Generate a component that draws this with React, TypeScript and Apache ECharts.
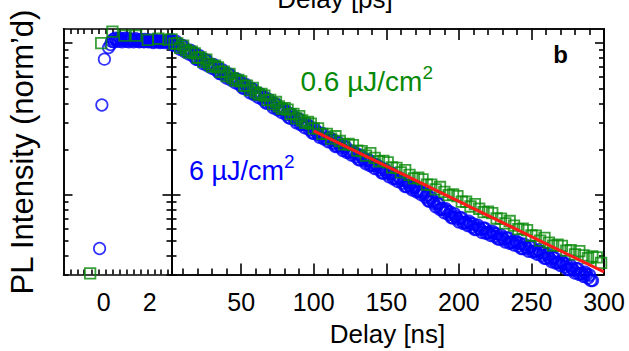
import React, { useEffect, useRef } from "react";
import * as echarts from "echarts";

// ---------- tick values ----------
const psTicks = [-1.45, -1.15, -0.85, -0.5, -0.2, 0.08, 0.38, 0.68, 1.0, 1.3, 1.6, 1.9, 2.2, 2.5, 2.78];
const psLabels = [0, 2];
const nsMinorTicks = [10, 20, 30, 40, 60, 70, 80, 90, 110, 120, 130, 140, 160, 170, 180, 190, 210, 220, 230, 240, 260, 270, 280, 290];
const nsMajorTicks = [50, 100, 150, 200, 250, 300];
const yMajorTicks = [0.1, 1];
const yMinorTicks = [0.03, 0.04, 0.05, 0.06, 0.07, 0.08, 0.09, 0.2, 0.3, 0.4, 0.5, 0.6, 0.7, 0.8, 0.9];

// ---------- data: left panel (ps) ----------
const bluePs = [
  [-0.18, 0.0445], [-0.08, 0.392], [0.03, 0.785], [0.21, 0.935], [0.3, 0.98], [0.35, 1.03], [0.4, 1.06],
  [0.45, 1.02], [0.5, 1.08], [0.55, 1.04], [0.6, 1.07], [0.65, 1.03], [0.7, 1.08], [0.75, 1.05], [0.8, 1.02],
  [0.85, 1.07], [0.9, 1.04], [0.95, 1.08], [1.0, 1.03], [1.05, 1.06], [1.1, 1.02], [1.15, 1.07], [1.2, 1.04],
  [1.25, 1.06], [1.3, 1.02], [1.35, 1.05], [1.4, 1.07], [1.45, 1.03], [1.5, 1.05], [1.55, 1.02], [1.6, 1.06],
  [1.65, 1.03], [1.7, 1.05], [1.75, 1.02], [1.8, 1.06], [1.85, 1.03], [1.9, 1.04], [1.95, 1.02], [2.0, 1.05],
  [2.05, 1.03], [2.1, 1.04], [2.15, 1.01], [2.2, 1.05], [2.25, 1.02], [2.3, 1.04], [2.35, 1.02], [2.4, 1.03],
  [2.45, 1.01], [2.5, 1.04], [2.55, 1.02], [2.6, 1.03], [2.65, 1.01], [2.7, 1.04], [2.75, 1.02], [2.8, 1.03],
  [2.85, 1.01], [2.9, 1.03], [2.95, 1.02],
];
const greenPs = [
  [-0.59, 0.0305], [-0.11, 1.0], [0.38, 1.19], [0.9, 1.12], [1.41, 1.12], [1.92, 1.05], [2.38, 1.07], [2.82, 1.05],
];

// ---------- data: right panel (ns), 6 uJ/cm2 (even delays) ----------
const blueNsEven = [
  [2, 1.05], [4, 0.973], [6, 0.986], [8, 0.912], [10, 0.961], [12, 0.89], [14, 0.849], [16, 0.869], [18, 0.854],
  [20, 0.783], [22, 0.793], [24, 0.733], [26, 0.774], [28, 0.717], [30, 0.684], [32, 0.7], [34, 0.688], [36, 0.631],
  [38, 0.638], [40, 0.59], [42, 0.623], [44, 0.577], [46, 0.55], [48, 0.563], [50, 0.553], [52, 0.506], [54, 0.512],
  [56, 0.473], [58, 0.498], [60, 0.461], [62, 0.439], [64, 0.449], [66, 0.441], [68, 0.404], [70, 0.408], [72, 0.377],
  [74, 0.397], [76, 0.367], [78, 0.35], [80, 0.358], [82, 0.351], [84, 0.321], [86, 0.325], [88, 0.3], [90, 0.316],
  [92, 0.293], [94, 0.278], [96, 0.285], [98, 0.28], [100, 0.256], [102, 0.26], [104, 0.241], [106, 0.254],
  [108, 0.236], [110, 0.225], [112, 0.232], [114, 0.228], [116, 0.21], [118, 0.212], [120, 0.197], [122, 0.208],
  [124, 0.193], [126, 0.184], [128, 0.189], [130, 0.186], [132, 0.171], [134, 0.174], [136, 0.161], [138, 0.17],
  [140, 0.157], [142, 0.15], [144, 0.155], [146, 0.152], [148, 0.14], [150, 0.142], [152, 0.132], [154, 0.139],
  [156, 0.129], [158, 0.123], [160, 0.126], [162, 0.125], [164, 0.114], [166, 0.116], [168, 0.108], [170, 0.113],
  [172, 0.106], [174, 0.101], [176, 0.103], [178, 0.0999], [180, 0.0912], [182, 0.0914], [184, 0.084], [186, 0.0879],
  [188, 0.081], [190, 0.0766], [192, 0.0785], [194, 0.0773], [196, 0.0709], [198, 0.072], [200, 0.0667],
  [202, 0.0707], [204, 0.0658], [206, 0.0632], [208, 0.0651], [210, 0.0644], [212, 0.0596], [214, 0.0609],
  [216, 0.0568], [218, 0.0604], [220, 0.0565], [222, 0.0543], [224, 0.0561], [226, 0.0556], [228, 0.0514],
  [230, 0.0525], [232, 0.0491], [234, 0.0522], [236, 0.0489], [238, 0.047], [240, 0.0487], [242, 0.0482],
  [244, 0.0446], [246, 0.0457], [248, 0.0427], [250, 0.0458], [252, 0.0426], [254, 0.0408], [256, 0.0421],
  [258, 0.0416], [260, 0.0384], [262, 0.0391], [264, 0.0364], [266, 0.0386], [268, 0.036], [270, 0.0345],
  [272, 0.0356], [274, 0.0351], [276, 0.0324], [278, 0.033], [280, 0.0307], [282, 0.0327], [284, 0.0304],
  [286, 0.0292], [288, 0.0301], [290, 0.0297], [292, 0.0274],
];
// ---------- 6 uJ/cm2 (odd delays) ----------
const blueNsOdd = [
  [3, 0.975], [5, 1.03], [7, 0.953], [9, 0.965], [11, 0.884], [13, 0.896], [15, 0.898], [17, 0.823], [19, 0.785],
  [21, 0.828], [23, 0.766], [25, 0.777], [27, 0.712], [29, 0.721], [31, 0.723], [33, 0.663], [35, 0.633], [37, 0.667],
  [39, 0.617], [41, 0.625], [43, 0.573], [45, 0.581], [47, 0.581], [49, 0.533], [51, 0.508], [53, 0.535], [55, 0.495],
  [57, 0.501], [59, 0.458], [61, 0.464], [63, 0.464], [65, 0.425], [67, 0.405], [69, 0.426], [71, 0.394], [73, 0.399],
  [75, 0.365], [77, 0.37], [79, 0.37], [81, 0.339], [83, 0.323], [85, 0.339], [87, 0.314], [89, 0.317], [91, 0.291],
  [93, 0.294], [95, 0.294], [97, 0.27], [99, 0.257], [101, 0.27], [103, 0.251], [105, 0.254], [107, 0.234],
  [109, 0.237], [111, 0.238], [113, 0.22], [115, 0.209], [117, 0.222], [119, 0.205], [121, 0.208], [123, 0.191],
  [125, 0.194], [127, 0.194], [129, 0.179], [131, 0.171], [133, 0.181], [135, 0.168], [137, 0.17], [139, 0.156],
  [141, 0.159], [143, 0.159], [145, 0.147], [147, 0.14], [149, 0.148], [151, 0.138], [153, 0.139], [155, 0.128],
  [157, 0.129], [159, 0.13], [161, 0.12], [163, 0.114], [165, 0.121], [167, 0.112], [169, 0.113], [171, 0.105],
  [173, 0.106], [175, 0.106], [177, 0.097], [179, 0.0917], [181, 0.0959], [183, 0.0881], [185, 0.0886],
  [187, 0.0806], [189, 0.0812], [191, 0.0811], [193, 0.0745], [195, 0.071], [197, 0.0751], [199, 0.0697],
  [201, 0.0708], [203, 0.0652], [205, 0.0665], [207, 0.0671], [209, 0.0618], [211, 0.0594], [213, 0.0632],
  [215, 0.0591], [217, 0.0604], [219, 0.0559], [221, 0.0571], [223, 0.0577], [225, 0.0534], [227, 0.0514],
  [229, 0.0546], [231, 0.051], [233, 0.0521], [235, 0.0483], [237, 0.0494], [239, 0.05], [241, 0.0463],
  [243, 0.0445], [245, 0.0474], [247, 0.0444], [249, 0.0455], [251, 0.0422], [253, 0.0429], [255, 0.0434],
  [257, 0.04], [259, 0.0384], [261, 0.0407], [263, 0.0379], [265, 0.0386], [267, 0.0356], [269, 0.0364],
  [271, 0.0366], [273, 0.0338], [275, 0.0324], [277, 0.0343], [279, 0.032], [281, 0.0327], [283, 0.0301],
  [285, 0.0307], [287, 0.031], [289, 0.0285], [291, 0.0274],
];
// ---------- 0.6 uJ/cm2 ----------
const greenNs = [
  [2, 1.06], [4, 0.993], [6, 0.996], [8, 0.931], [10, 0.963], [12, 0.901], [14, 0.868], [16, 0.88], [18, 0.857],
  [20, 0.802], [22, 0.805], [24, 0.753], [26, 0.778], [28, 0.728], [30, 0.702], [32, 0.711], [34, 0.693], [36, 0.648],
  [38, 0.65], [40, 0.608], [42, 0.628], [44, 0.588], [46, 0.567], [48, 0.574], [50, 0.56], [52, 0.523], [54, 0.525],
  [56, 0.491], [58, 0.508], [60, 0.475], [62, 0.458], [64, 0.464], [66, 0.452], [68, 0.422], [70, 0.424], [72, 0.397],
  [74, 0.41], [76, 0.384], [78, 0.369], [80, 0.374], [82, 0.365], [84, 0.341], [86, 0.342], [88, 0.32], [90, 0.331],
  [92, 0.31], [94, 0.299], [96, 0.303], [98, 0.295], [100, 0.275], [103, 0.275], [106, 0.253], [109, 0.253],
  [112, 0.235], [115, 0.244], [118, 0.227], [121, 0.216], [124, 0.217], [127, 0.213], [130, 0.196], [133, 0.195],
  [136, 0.182], [139, 0.189], [142, 0.176], [145, 0.167], [148, 0.168], [151, 0.164], [154, 0.152], [157, 0.151],
  [160, 0.141], [163, 0.146], [166, 0.136], [169, 0.129], [172, 0.13], [175, 0.127], [178, 0.117], [181, 0.117],
  [184, 0.109], [187, 0.113], [190, 0.105], [193, 0.0998], [196, 0.101], [199, 0.0983], [202, 0.0906], [205, 0.0904],
  [208, 0.0841], [211, 0.0873], [214, 0.0813], [217, 0.0772], [220, 0.0778], [223, 0.0761], [226, 0.0701],
  [229, 0.07], [232, 0.0651], [235, 0.0675], [238, 0.0629], [241, 0.0596], [244, 0.0601], [247, 0.0588],
  [250, 0.0542], [253, 0.0541], [256, 0.0502], [259, 0.0522], [262, 0.0486], [265, 0.0465], [268, 0.0471],
  [271, 0.0463], [274, 0.0431], [277, 0.0434], [280, 0.0407], [283, 0.0427], [286, 0.0401], [289, 0.0384],
  [292, 0.0394], [295, 0.0389], [298, 0.0358],
];
const redFit = [[100, 0.265], [300, 0.0312]];

const FONT = "'Liberation Sans', Arial, Helvetica, sans-serif";
const BLUE = "#0000ff";
const GREEN = "#078a07";
const RED = "#ff1a1a";
const AXL = { color: "#000", width: 1.6 };

function xAx(grid: number, pos: string, min: number, max: number, ticks: number[], len: number, labels?: number[]) {
  return {
    type: "value", gridIndex: grid, position: pos, min, max,
    axisLine: { show: true, onZero: false, lineStyle: AXL },
    axisTick: { show: true, inside: true, length: len, customValues: ticks, lineStyle: AXL },
    axisLabel: labels
      ? { show: true, customValues: labels, fontSize: 25, color: "#000", fontFamily: FONT, margin: 15 }
      : { show: false },
    splitLine: { show: false },
  };
}
function yAx(grid: number, pos: string, ticks: number[], len: number) {
  return {
    type: "log", logBase: 10, gridIndex: grid, position: pos, min: 0.03, max: 1.24,
    axisLine: { show: true, onZero: false, lineStyle: AXL },
    axisTick: { show: true, inside: true, length: len, customValues: ticks, lineStyle: AXL },
    axisLabel: { show: false },
    splitLine: { show: false },
  };
}

export default function App() {
  const ref = useRef<HTMLDivElement>(null);
  useEffect(() => {
    if (!ref.current) return;
    const chart = echarts.init(ref.current, undefined, { renderer: "svg" });
    const circle = (data: number[][], xi: number, yi: number, bw: number) => ({
      type: "scatter", xAxisIndex: xi, yAxisIndex: yi, data, symbol: "circle", symbolSize: 11.5, clip: false,
      itemStyle: { color: "rgba(0,0,0,0)", borderColor: BLUE, borderWidth: bw }, silent: true,
    });
    const square = (data: number[][], xi: number, yi: number) => ({
      type: "scatter", xAxisIndex: xi, yAxisIndex: yi, data, symbol: "rect", symbolSize: 10.5, clip: false,
      itemStyle: { color: "rgba(0,0,0,0)", borderColor: GREEN, borderWidth: 1.8 }, silent: true,
    });
    chart.setOption({
      animation: false,
      backgroundColor: "#fff",
      grid: [
        { left: 63.5, top: 29, width: 108, height: 245.5 },
        { left: 171.5, top: 29, width: 432.5, height: 245.5 },
      ],
      xAxis: [
        xAx(0, "bottom", -1.75, 2.95, psTicks, 5, psLabels),
        xAx(0, "top", -1.75, 2.95, psTicks, 5),
        xAx(1, "bottom", 2, 300, nsMinorTicks, 6),
        xAx(1, "bottom", 2, 300, nsMajorTicks, 11, nsMajorTicks),
        xAx(1, "top", 2, 300, nsMinorTicks, 6),
        xAx(1, "top", 2, 300, nsMajorTicks, 11),
      ],
      yAxis: [
        yAx(0, "left", yMajorTicks, 9),
        yAx(0, "left", yMinorTicks, 5),
        yAx(0, "right", yMajorTicks, 9),
        yAx(0, "right", yMinorTicks, 5),
        yAx(1, "left", yMajorTicks, 9),
        yAx(1, "left", yMinorTicks, 5),
        yAx(1, "right", yMajorTicks, 9),
        yAx(1, "right", yMinorTicks, 5),
      ],
      series: [
        circle(bluePs, 0, 0, 1.7),
        square(greenPs, 0, 0),
        circle(blueNsEven, 2, 4, 2),
        circle(blueNsOdd, 2, 4, 2),
        square(greenNs, 2, 4),
        {
          type: "line", xAxisIndex: 2, yAxisIndex: 4, data: redFit, symbol: "none", silent: true,
          lineStyle: { color: RED, width: 3 },
        },
      ],
      graphic: [
        {
          type: "text", x: 335, y: -1.5,
          style: { text: "Delay [ps]", fontSize: 26, fontFamily: FONT, fill: "#000", align: "center", verticalAlign: "middle", textAlign: "center", textVerticalAlign: "middle" },
        },
        {
          type: "text", x: 387.5, y: 334,
          style: { text: "Delay [ns]", fontSize: 26, fontFamily: FONT, fill: "#000", align: "center", verticalAlign: "middle", textAlign: "center", textVerticalAlign: "middle" },
        },
        {
          type: "text", x: 22.5, y: 152, rotation: Math.PI / 2,
          style: { text: "PL Intensity (norm\u2019d)", fontSize: 31, fontFamily: FONT, fill: "#000", align: "center", verticalAlign: "middle", textAlign: "center", textVerticalAlign: "middle" },
        },
        {
          type: "text", x: 560.5, y: 54.6,
          style: { text: "b", fontSize: 24, fontWeight: "bold", fontFamily: FONT, fill: "#000", align: "center", verticalAlign: "middle", textAlign: "center", textVerticalAlign: "middle" },
        },
        {
          type: "text", x: 300.5, y: 81.9,
          style: {
            text: "{m|0.6 \u00b5J/cm}{s|2}", align: "left", verticalAlign: "middle", textAlign: "left", textVerticalAlign: "middle",
            rich: {
              m: { fontSize: 28, lineHeight: 38, fontFamily: FONT, fill: GREEN },
              s: { fontSize: 19, lineHeight: 19, fontFamily: FONT, fill: GREEN, verticalAlign: "top" },
            },
          },
        },
        {
          type: "text", x: 189, y: 170.5,
          style: {
            text: "{m|6 \u00b5J/cm}{s|2}", align: "left", verticalAlign: "middle", textAlign: "left", textVerticalAlign: "middle",
            rich: {
              m: { fontSize: 27, lineHeight: 37, fontFamily: FONT, fill: BLUE },
              s: { fontSize: 19, lineHeight: 19, fontFamily: FONT, fill: BLUE, verticalAlign: "top" },
            },
          },
        },
      ],
    });
    return () => chart.dispose();
  }, []);
  return (
    <div
      ref={ref}
      style={{ position: "absolute", left: 0, top: 0, width: 629, height: 351, background: "#fff" }}
    />
  );
}
